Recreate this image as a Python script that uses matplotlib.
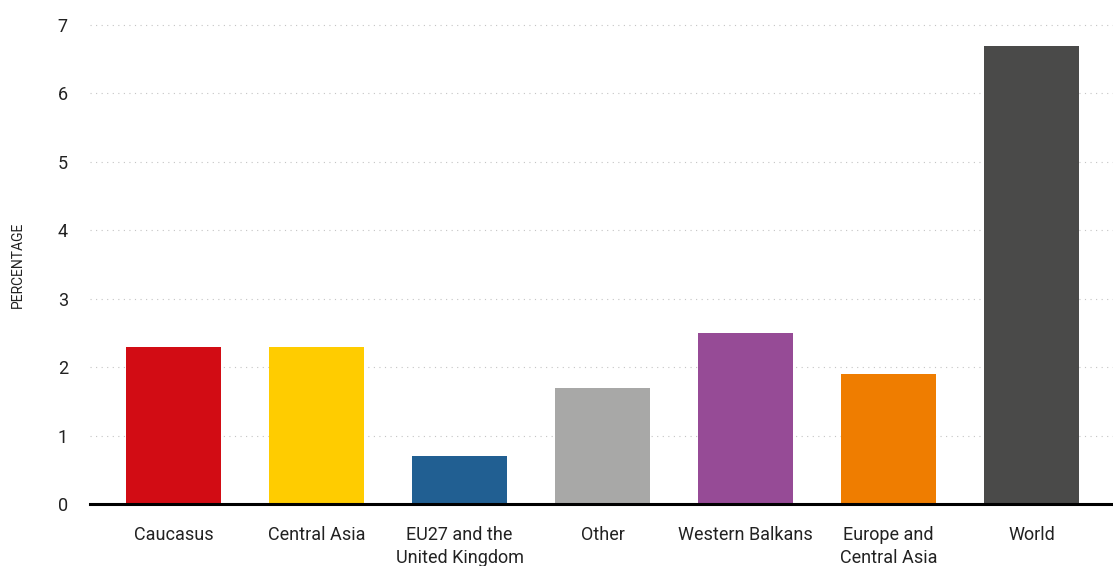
import matplotlib.pyplot as plt

# regions and their values (percent)
regions = ['Caucasus', 'Central Asia', 'EU27 and the\nUnited Kingdom', 'Other',
           'Western Balkans', 'Europe and\nCentral Asia', 'World']
values = [2.3, 2.3, 0.7, 1.7, 2.5, 1.9, 6.7]
colors = ['#D20C14', '#FFCC00', '#215F92', '#A8A8A7', '#964B96', '#EF7D00', '#4A4A49']
yticks = [0, 1, 2, 3, 4, 5, 6, 7]

plt.rcParams['font.family'] = ['Roboto', 'DejaVu Sans']

fig = plt.figure(figsize=(11.13, 5.66), dpi=100)
ax = fig.add_axes([0.0809, 0.1095, 0.9191, 0.8463])

x = list(range(len(regions)))
ax.bar(x, values, width=0.665, color=colors, zorder=3)

ax.set_xlim(-0.584, 6.57)
ax.set_ylim(0, 7)
ax.set_yticks(yticks)
ax.set_xticks(x)
ax.set_xticklabels(regions, fontsize=13, color='#222222', linespacing=1.35, va='top')
ax.tick_params(axis='x', length=0, pad=16)
ax.tick_params(axis='y', length=0, pad=16, labelsize=13, labelcolor='#222222')

# dotted horizontal grid
for yv in yticks[1:]:
    ax.axhline(yv, linestyle=(0, (1, 4)), color='#c4c4c4', linewidth=0.8, clip_on=False, zorder=0)

for side in ['top', 'right', 'left']:
    ax.spines[side].set_visible(False)
ax.spines['bottom'].set_linewidth(2.2)
ax.spines['bottom'].set_color('black')
ax.spines['bottom'].set_zorder(4)

fig.text(0.016, 0.532, 'PERCENTAGE', rotation=90, fontsize=10, ha='center', va='center',
         color='#222222', fontstretch='condensed')

fig.savefig('out.png', dpi=100)
